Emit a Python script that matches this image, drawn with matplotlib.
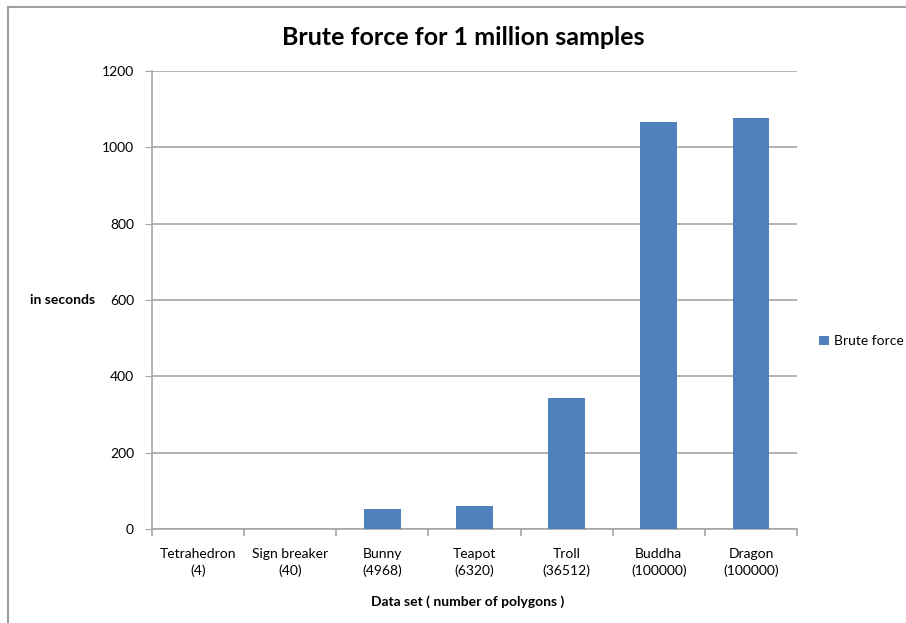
import matplotlib
matplotlib.use("Agg")
import matplotlib.pyplot as plt
from matplotlib.lines import Line2D
from matplotlib.patches import Patch
import numpy as np

plt.rcParams['font.family'] = ['Lato', 'DejaVu Sans']

categories = ["Tetrahedron\n(4)", "Sign breaker\n(40)", "Bunny\n(4968)", "Teapot\n(6320)",
              "Troll\n(36512)", "Buddha\n(100000)", "Dragon\n(100000)"]
brute_force = [0.2, 0.5, 52, 60, 343, 1066, 1076]
y_ticks = [0, 200, 400, 600, 800, 1000, 1200]

bar_color = "#4F81BD"
grid_color = "#A6A6A6"

fig = plt.figure(figsize=(9.06, 6.23), dpi=100)
ax = fig.add_axes([0.1678, 0.1509, 0.7119, 0.7351])

x = np.arange(len(categories))
ax.bar(x, brute_force, width=0.4, color=bar_color, zorder=3, label="Brute force")

ax.set_xlim(-0.5, len(categories) - 0.5)
ax.set_ylim(0, 1200)
ax.set_yticks(y_ticks)
ax.set_yticklabels([str(v) for v in y_ticks], fontsize=10)
ax.yaxis.grid(True, color=grid_color, linewidth=1.2, zorder=0)
ax.tick_params(axis='y', length=5, color=grid_color, pad=8, direction='out')

# category labels centred under each bar, tick marks between categories
ax.set_xticks(x)
ax.set_xticklabels(categories, fontsize=10, linespacing=1.35)
ax.tick_params(axis='x', length=0, pad=14)
ax.set_xticks(np.arange(-0.5, len(categories)), minor=True)
ax.tick_params(axis='x', which='minor', length=5, color=grid_color, width=1.2)

for side in ('top', 'right'):
    ax.spines[side].set_visible(False)
for side in ('left', 'bottom'):
    ax.spines[side].set_color(grid_color)
    ax.spines[side].set_linewidth(1.2)

fig.text(0.511, 0.94, "Brute force for 1 million samples", ha='center', va='center',
         fontsize=18, fontweight='bold')
fig.text(0.069, 0.518, "in seconds", ha='center', va='center', fontsize=10, fontweight='bold')
fig.text(0.516, 0.034, "Data set ( number of polygons )", ha='center', va='center',
         fontsize=10, fontweight='bold')

fig.legend(handles=[Patch(facecolor=bar_color, label="Brute force")],
           loc='center left', bbox_to_anchor=(0.904, 0.452), frameon=False,
           borderpad=0, borderaxespad=0,
           fontsize=10, handlelength=0.7, handleheight=0.7, handletextpad=0.4)

# outer chart frame
fig.add_artist(Line2D([8 / 906, 8 / 906], [0, 1 - 7 / 623], color="#A0A0A0", lw=1.5,
                      transform=fig.transFigure))
fig.add_artist(Line2D([8 / 906, 1], [1 - 7 / 623, 1 - 7 / 623], color="#A0A0A0", lw=1.5,
                      transform=fig.transFigure))

fig.savefig("out.png", dpi=100)
